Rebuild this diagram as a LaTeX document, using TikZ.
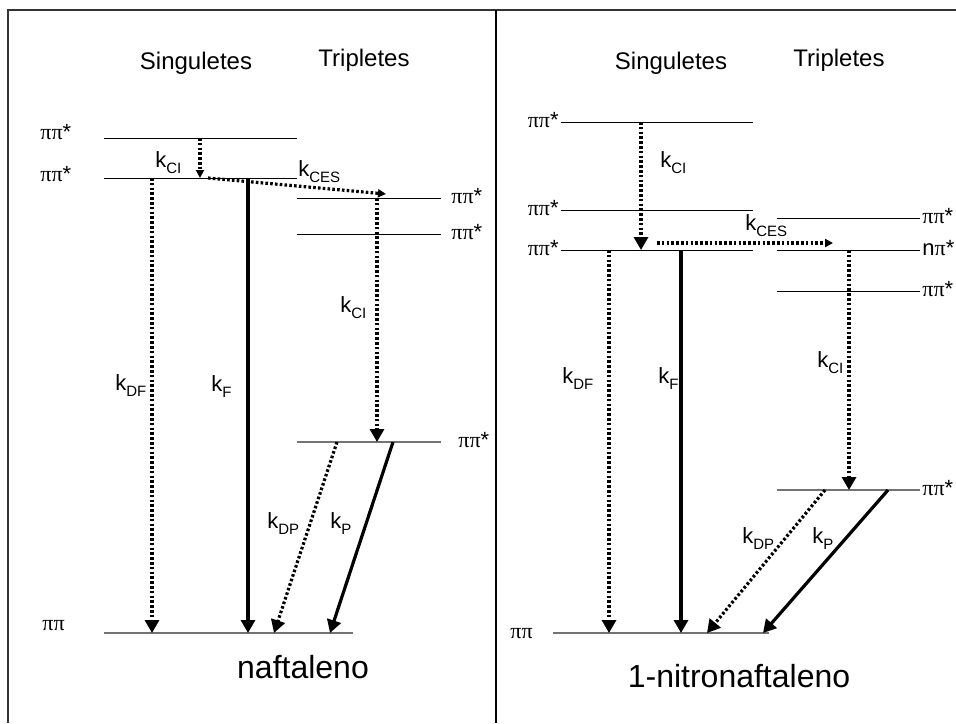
\documentclass[tikz,border=0pt]{standalone}
\usepackage{fontspec}
\setmainfont{Liberation Sans}
\newfontfamily\pifamily{Liberation Serif}
\usetikzlibrary{arrows.meta}
\newcommand{\pipi}{{\pifamily ππ}}
\newcommand{\pist}{{\pifamily ππ}*}
\newcommand{\npist}{n{\pifamily π}*}
\newcommand{\krate}[1]{k\raisebox{-3.2pt}{\fontsize{7.5}{9}\selectfont #1}}

\begin{document}
\begin{tikzpicture}[x=0.5pt,y=-0.5pt,
    level/.style={line width=0.5pt},
    ground/.style={line width=0.6pt,draw=black!55},
    state/.style={font=\fontsize{11}{13}\selectfont,inner sep=0pt},
    rate/.style={font=\fontsize{11}{13}\selectfont,inner sep=0pt,anchor=base west},
    head/.style={font=\fontsize{12}{14}\selectfont,inner sep=0pt,anchor=base},
    molecule/.style={font=\fontsize{16}{19}\selectfont,inner sep=0pt,anchor=base},
    radiative/.style={-{Triangle[length=6.5pt,width=7pt]},line width=1.6pt},
    nonrad/.style={-{Triangle[length=6.5pt,width=7pt]},line width=1.6pt,
        dash pattern=on 1.3pt off 1.1pt},
    crossing/.style={-{Triangle[length=4pt,width=4pt]},line width=1.6pt,
        dash pattern=on 1.3pt off 1.1pt}
]
    \useasboundingbox (0,0) rectangle (956,723);
    \draw[line width=0.6pt,black!80] (8,723) -- (8,10) -- (956,10);
    \draw[line width=0.6pt] (496,10) -- (496,723);

    \node[head] (singL) at (196,69) {Singuletes};
    \node[head] (tripL) at (364,66) {Tripletes};
    \draw[level] (104,138) -- (297,138);
    \draw[level] (104,178) -- (297,178);
    \draw[level] (297,198) -- (441,198);
    \draw[level] (297,234) -- (441,234);
    \draw[ground] (297,442) -- (441,442);
    \draw[ground] (104,633) -- (353,633);
    \node[state,anchor=base west] (s2L) at (40,139) {\pist};
    \node[state,anchor=base west] (s1L) at (40,181) {\pist};
    \node[state,anchor=base west] (t3L) at (451,203) {\pist};
    \node[state,anchor=base west] (t2L) at (451,239) {\pist};
    \node[state,anchor=base west] (t1L) at (458,447) {\pist};
    \node[state,anchor=base west] (s0L) at (42,630) {\pipi};

    \coordinate (ciAL) at (200,138);  \coordinate (ciBL) at (200,178);
    \coordinate (cesAL) at (208,178); \coordinate (cesBL) at (386,194);
    \coordinate (dfAL) at (152,178);  \coordinate (dfBL) at (152,633);
    \coordinate (fAL) at (248,178);   \coordinate (fBL) at (248,633);
    \coordinate (tciAL) at (377,198); \coordinate (tciBL) at (377,442);
    \coordinate (dpAL) at (337,442);  \coordinate (dpBL) at (274,633);
    \coordinate (pAL) at (393,442);   \coordinate (pBL) at (330,633);
    \draw[crossing] (ciAL) -- (ciBL);
    \draw[crossing] (cesAL) -- (cesBL);
    \draw[nonrad] (dfAL) -- (dfBL);
    \draw[radiative] (fAL) -- (fBL);
    \draw[nonrad] (tciAL) -- (tciBL);
    \draw[nonrad] (dpAL) -- (dpBL);
    \draw[radiative] (pAL) -- (pBL);
    \node[rate] (kciL) at (155,167) {\krate{CI}};
    \node[rate] (kcesL) at (298,176) {\krate{CES}};
    \node[rate] (kdfL) at (115,390) {\krate{DF}};
    \node[rate] (kfL) at (211,391) {\krate{F}};
    \node[rate] (ktciL) at (340,312) {\krate{CI}};
    \node[rate] (kdpL) at (267,528) {\krate{DP}};
    \node[rate] (kpL) at (330,528) {\krate{P}};
    \node[molecule] (naft) at (303,678) {naftaleno};

    \node[head] (singR) at (671,69) {Singuletes};
    \node[head] (tripR) at (839,66) {Tripletes};
    \draw[level] (561,122) -- (753,122);
    \draw[level] (561,210) -- (753,210);
    \draw[level] (561,250) -- (753,250);
    \draw[level] (777,218) -- (920,218);
    \draw[level] (777,250) -- (920,250);
    \draw[level] (777,291) -- (920,291);
    \draw[ground] (777,490) -- (920,490);
    \draw[ground] (553,633) -- (769,633);
    \node[state,anchor=base east] (s3R) at (559,127) {\pist};
    \node[state,anchor=base east] (s2R) at (559,215) {\pist};
    \node[state,anchor=base east] (s1R) at (559,255) {\pist};
    \node[state,anchor=base west] (t4R) at (922,223) {\pist};
    \node[state,anchor=base west] (t3R) at (922,255) {\npist};
    \node[state,anchor=base west] (t2R) at (922,296) {\pist};
    \node[state,anchor=base west] (t1R) at (922,495) {\pist};
    \node[state,anchor=base west] (s0R) at (510,638) {\pipi};

    \coordinate (ciAR) at (641,122);  \coordinate (ciBR) at (641,250);
    \coordinate (cesAR) at (657,243); \coordinate (cesBR) at (833,243);
    \coordinate (dfAR) at (609,250);  \coordinate (dfBR) at (609,633);
    \coordinate (fAR) at (681,250);   \coordinate (fBR) at (681,633);
    \coordinate (tciAR) at (849,250); \coordinate (tciBR) at (849,490);
    \coordinate (dpAR) at (825,490);  \coordinate (dpBR) at (707,633);
    \coordinate (pAR) at (888,490);   \coordinate (pBR) at (763,633);
    \draw[nonrad] (ciAR) -- (ciBR);
    \draw[crossing] (cesAR) -- (cesBR);
    \draw[nonrad] (dfAR) -- (dfBR);
    \draw[radiative] (fAR) -- (fBR);
    \draw[nonrad] (tciAR) -- (tciBR);
    \draw[nonrad] (dpAR) -- (dpBR);
    \draw[radiative] (pAR) -- (pBR);
    \node[rate] (kciR) at (660,167) {\krate{CI}};
    \node[rate] (kcesR) at (745,230) {\krate{CES}};
    \node[rate] (kdfR) at (562,383) {\krate{DF}};
    \node[rate] (kfR) at (658,383) {\krate{F}};
    \node[rate] (ktciR) at (817,367) {\krate{CI}};
    \node[rate] (kdpR) at (742,543) {\krate{DP}};
    \node[rate] (kpR) at (812,543) {\krate{P}};
    \node[molecule] (nitro) at (739,687) {1-nitronaftaleno};
\end{tikzpicture}
\end{document}
